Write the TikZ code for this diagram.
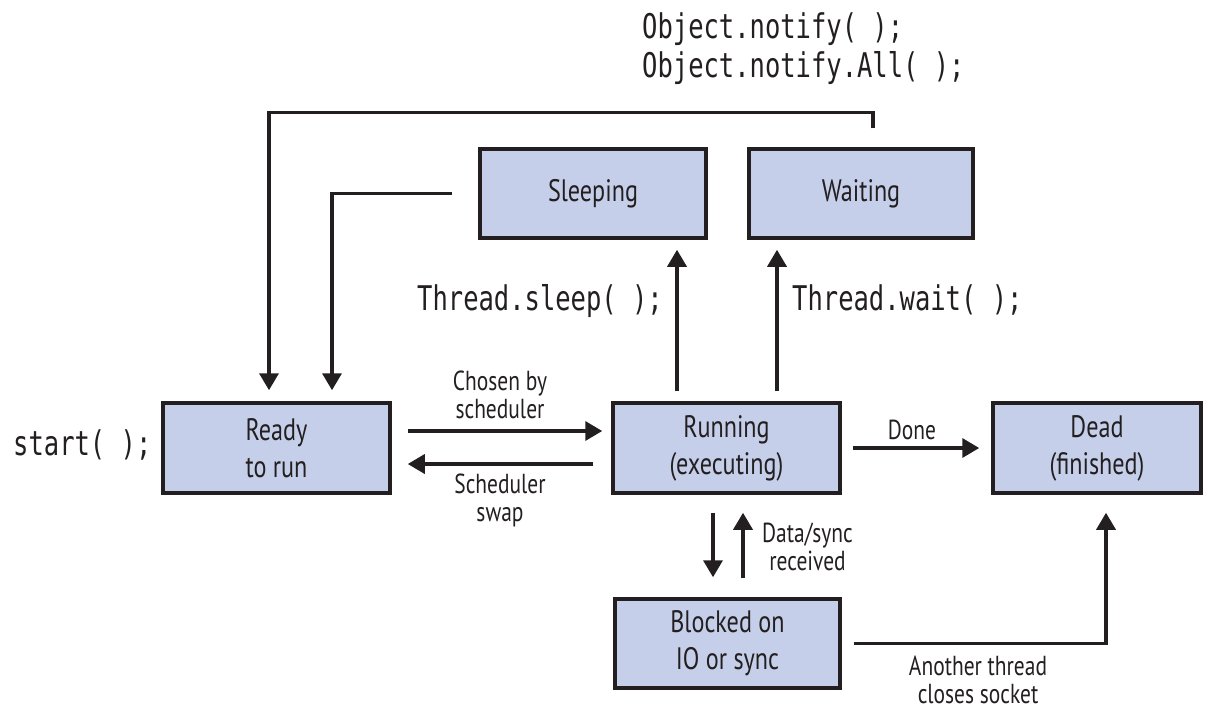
\documentclass[tikz,border=0pt]{standalone}
\usepackage{fontspec}
\setmainfont[FakeStretch=0.78]{PT Sans}
\setmonofont[FakeStretch=0.75]{DejaVu Sans Mono}
\usetikzlibrary{arrows.meta,calc}
\definecolor{boxfill}{RGB}{198,207,234}
\definecolor{ink}{RGB}{35,31,32}
\begin{document}
\begin{tikzpicture}[x=1pt,y=-1pt,
  state/.style={draw=ink,fill=boxfill,line width=3.5pt,minimum height=90pt,inner sep=0pt,align=center,text=ink,font=\fontsize{31}{37}\selectfont},
  lbl/.style={align=center,text=ink,font=\fontsize{27.5}{28}\selectfont,inner sep=0pt},
  code/.style={font=\ttfamily\fontsize{34}{38}\selectfont,text=ink,inner sep=0pt,anchor=base west},
  conn/.style={draw=ink,line width=3.5pt},
  arr/.style={conn,-{Triangle[length=17pt,width=19pt]}}]
\useasboundingbox (0,0) rectangle (1220,710);

% states
\node[state,minimum width=227pt] (ready) at (276.5,448) {Ready\\to run};
\node[state,minimum width=227pt] (running) at (726.5,448) {Running\\(executing)};
\node[state,minimum width=208pt] (dead) at (1097,448) {Dead\\(finished)};
\node[state,minimum width=226pt,minimum height=89pt] (sleeping) at (593,193.5) {Sleeping};
\node[state,minimum width=224pt,minimum height=89pt] (waiting) at (861,193.5) {Waiting};
\node[state,minimum width=225pt,minimum height=89pt] (blocked) at (727.5,643.5) {Blocked on\\IO or sync};

% code texts
\node[code] (notify1) at (642,38) {Object.notify( );};
\node[code] (notify2) at (642,77) {Object.notify.All( );};
\node[code] (tsleep) at (417,310) {Thread.sleep( );};
\node[code] (twait) at (792,310) {Thread.wait( );};
\node[code] (start) at (13,455) {start( );};

% labels
\node[lbl] (chosen) at (500,395) {Chosen by\\scheduler};
\node[lbl] (swap) at (500,500) {Scheduler\\swap};
\node[lbl] (done) at (912,430) {Done};
\node[lbl,anchor=west] (datasync) at (762,547) {Data/sync\\received};
\node[lbl] (another) at (978,680) {Another thread\\closes socket};

% connectors
\draw[arr] ($(ready.east)+(16,-17)$) -- ($(running.west)+(-9,-17)$);
\draw[arr] ($(running.west)+(-18,16)$) -- ($(ready.east)+(16,16)$);
\draw[arr] ($(running.east)+(11,0)$) -- ($(dead.west)+(-12,0)$);
\draw[arr] ($(running.north)+(-49.5,-10)$) -- ($(sleeping.south -| running.north)+(-49.5,10)$);
\draw[arr] ($(running.north)+(50.5,-10)$) -- ($(waiting.south -| running.north)+(50.5,10)$);
\draw[arr] ($(running.south)+(-13.5,18)$) -- ($(blocked.north -| running.south)+(-13.5,-20)$);
\draw[arr] ($(blocked.north -| running.south)+(16.5,-19)$) -- ($(running.south)+(16.5,18)$);
\draw[arr] ($(blocked.east)+(12,0)$) -| ($(dead.south)+(9,18)$);
\draw[arr] ($(sleeping.west)+(-26,0)$) -| ($(ready.north)+(55.5,-11)$);
\draw[arr] ($(waiting.north)+(12,-19)$) -- ++(0,-16) -| ($(ready.north)+(-7.5,-11)$);
\end{tikzpicture}
\end{document}
